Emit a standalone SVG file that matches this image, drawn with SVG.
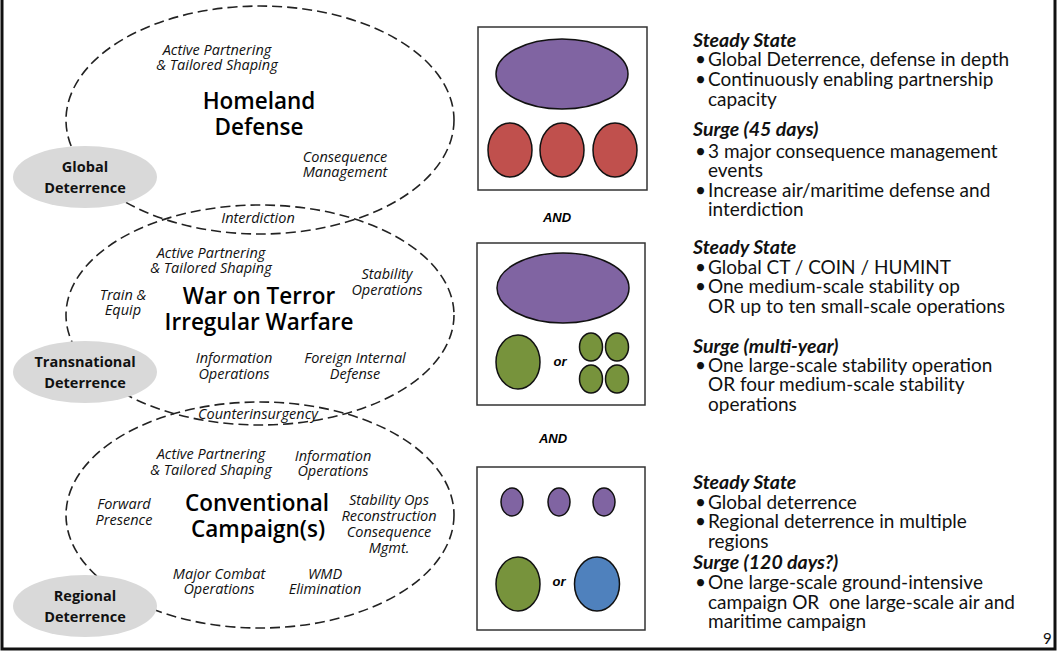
<svg xmlns="http://www.w3.org/2000/svg" width="1061" height="652" viewBox="0 0 1061 652">
<style>
.dash{fill:none;stroke:#222;stroke-width:1.6;stroke-dasharray:10 5}
.tag{fill:#d9d9d9;stroke:none}
.tagt{font-family:"Open Sans",sans-serif;font-weight:700;font-size:14.5px;fill:#111;text-anchor:middle}
.big{font-family:"Open Sans",sans-serif;font-weight:600;font-size:22.5px;fill:#000;text-anchor:middle}
.it{font-family:"Open Sans",sans-serif;font-style:italic;font-size:14.5px;fill:#111;text-anchor:middle}
.box{fill:#fff;stroke:#333;stroke-width:1.5}
.sh{stroke:#111;stroke-width:1.5}
.pu{fill:#8064a2}.rd{fill:#c0504d}.gr{fill:#77933c}.bl{fill:#4f81bd}
.and{font-family:"Liberation Sans",Arial,sans-serif;font-style:italic;font-weight:bold;font-size:13px;fill:#000;text-anchor:middle}
.or{font-family:"Liberation Sans",Arial,sans-serif;font-style:italic;font-weight:bold;font-size:13px;fill:#000;text-anchor:middle}
.hd{font-family:Lato,"Open Sans",sans-serif;font-style:italic;font-weight:bold;font-size:19.5px;fill:#111}
.tx{font-family:Lato,"Open Sans",sans-serif;font-size:19px;fill:#111}
</style>
<rect x="0" y="0" width="1061" height="652" fill="#fff"/>
<path d="M2,0 V649 H1055 V0" fill="none" stroke="#111" stroke-width="3"/>

<g id="connectors">
<ellipse class="dash" cx="260" cy="120" rx="194" ry="114"/>
<ellipse class="dash" cx="260" cy="315" rx="194" ry="110"/>
<ellipse class="dash" cx="260" cy="515" rx="194" ry="113"/>
</g>

<g id="homeland">
<text class="it" x="217" y="55">Active Partnering</text>
<text class="it" x="217" y="70">&amp; Tailored Shaping</text>
<text class="big" x="259" y="109">Homeland</text>
<text class="big" x="259" y="135">Defense</text>
<text class="it" x="345" y="162">Consequence</text>
<text class="it" x="345" y="177">Management</text>
<text class="it" x="258" y="223">Interdiction</text>
</g>

<g id="global-deterrence">
<ellipse class="tag" cx="85" cy="177" rx="72" ry="31"/>
<text class="tagt" x="85" y="172">Global</text>
<text class="tagt" x="85" y="193">Deterrence</text>
</g>

<g id="war-on-terror">
<text class="it" x="211" y="258">Active Partnering</text>
<text class="it" x="211" y="273">&amp; Tailored Shaping</text>
<text class="it" x="387" y="279">Stability</text>
<text class="it" x="387" y="295">Operations</text>
<text class="it" x="123" y="300">Train &amp;</text>
<text class="it" x="123" y="315">Equip</text>
<text class="big" x="259" y="304">War on Terror</text>
<text class="big" x="259" y="330">Irregular Warfare</text>
<text class="it" x="234" y="363">Information</text>
<text class="it" x="234" y="379">Operations</text>
<text class="it" x="355" y="363">Foreign Internal</text>
<text class="it" x="355" y="379">Defense</text>
<text class="it" x="258" y="419">Counterinsurgency</text>
</g>

<g id="transnational-deterrence">
<ellipse class="tag" cx="85" cy="372" rx="72" ry="31"/>
<text class="tagt" x="85" y="367">Transnational</text>
<text class="tagt" x="85" y="388">Deterrence</text>
</g>

<g id="conventional">
<text class="it" x="211" y="459">Active Partnering</text>
<text class="it" x="211" y="475">&amp; Tailored Shaping</text>
<text class="it" x="333" y="461">Information</text>
<text class="it" x="333" y="476">Operations</text>
<text class="it" x="124" y="509">Forward</text>
<text class="it" x="124" y="525">Presence</text>
<text class="big" x="257" y="511">Conventional</text>
<text class="big" x="258" y="537">Campaign(s)</text>
<text class="it" x="389" y="505">Stability Ops</text>
<text class="it" x="389" y="521">Reconstruction</text>
<text class="it" x="389" y="537">Consequence</text>
<text class="it" x="389" y="553">Mgmt.</text>
<text class="it" x="219" y="579">Major Combat</text>
<text class="it" x="219" y="594">Operations</text>
<text class="it" x="325" y="579">WMD</text>
<text class="it" x="325" y="594">Elimination</text>
</g>

<g id="regional-deterrence">
<ellipse class="tag" cx="85" cy="606" rx="72" ry="31"/>
<text class="tagt" x="85" y="601">Regional</text>
<text class="tagt" x="85" y="622">Deterrence</text>
</g>

<g id="box1">
<rect class="box" x="478" y="27" width="169" height="163"/>
<ellipse class="pu sh" cx="562" cy="74" rx="66" ry="35"/>
<ellipse class="rd sh" cx="510" cy="150" rx="22" ry="27"/>
<ellipse class="rd sh" cx="562" cy="150" rx="22" ry="27"/>
<ellipse class="rd sh" cx="615" cy="150" rx="22" ry="27"/>
</g>
<text class="and" x="557" y="222">AND</text>

<g id="box2">
<rect class="box" x="477" y="243" width="168" height="162"/>
<ellipse class="pu sh" cx="563" cy="288" rx="66" ry="35"/>
<ellipse class="gr sh" cx="518" cy="362" rx="22" ry="27"/>
<text class="or" x="560" y="366">or</text>
<ellipse class="gr sh" cx="591" cy="347" rx="11.5" ry="14"/>
<ellipse class="gr sh" cx="617" cy="347" rx="11.5" ry="14"/>
<ellipse class="gr sh" cx="591" cy="379" rx="11.5" ry="14"/>
<ellipse class="gr sh" cx="617" cy="379" rx="11.5" ry="14"/>
</g>
<text class="and" x="553" y="443">AND</text>

<g id="box3">
<rect class="box" x="477" y="467" width="168" height="163"/>
<ellipse class="pu sh" cx="512" cy="502" rx="11" ry="14"/>
<ellipse class="pu sh" cx="559" cy="502" rx="11" ry="14"/>
<ellipse class="pu sh" cx="604" cy="502" rx="11" ry="14"/>
<ellipse class="gr sh" cx="518" cy="584" rx="22" ry="27"/>
<text class="or" x="559" y="586">or</text>
<ellipse class="bl sh" cx="597" cy="584" rx="22.5" ry="27"/>
</g>

<g id="text1">
<text class="hd" x="693" y="47">Steady State</text>
<text class="tx" x="695" y="66">•</text><text class="tx" x="708" y="66">Global Deterrence, defense in depth</text>
<text class="tx" x="695" y="86">•</text><text class="tx" x="708" y="86">Continuously enabling partnership</text>
<text class="tx" x="708" y="106">capacity</text>
<text class="hd" x="693" y="136">Surge (45 days)</text>
<text class="tx" x="695" y="158">•</text><text class="tx" x="708" y="158">3 major consequence management</text>
<text class="tx" x="708" y="177">events</text>
<text class="tx" x="695" y="197">•</text><text class="tx" x="708" y="197">Increase air/maritime defense and</text>
<text class="tx" x="708" y="216">interdiction</text>
</g>

<g id="text2">
<text class="hd" x="693" y="254">Steady State</text>
<text class="tx" x="695" y="274">•</text><text class="tx" x="708" y="274">Global CT / COIN / HUMINT</text>
<text class="tx" x="695" y="293">•</text><text class="tx" x="708" y="293">One medium-scale stability op</text>
<text class="tx" x="708" y="313">OR up to ten small-scale operations</text>
<text class="hd" x="693" y="353">Surge (multi-year)</text>
<text class="tx" x="695" y="372">•</text><text class="tx" x="708" y="372">One large-scale stability operation</text>
<text class="tx" x="708" y="391">OR four medium-scale stability</text>
<text class="tx" x="708" y="411">operations</text>
</g>

<g id="text3">
<text class="hd" x="693" y="489">Steady State</text>
<text class="tx" x="695" y="509">•</text><text class="tx" x="708" y="509">Global deterrence</text>
<text class="tx" x="695" y="528">•</text><text class="tx" x="708" y="528">Regional deterrence in multiple</text>
<text class="tx" x="708" y="548">regions</text>
<text class="hd" x="693" y="569">Surge (120 days?)</text>
<text class="tx" x="695" y="589">•</text><text class="tx" x="708" y="589">One large-scale ground-intensive</text>
<text class="tx" x="708" y="609" xml:space="preserve">campaign OR  one large-scale air and</text>
<text class="tx" x="708" y="628">maritime campaign</text>
</g>

<text x="1043" y="644" font-family="Lato,'Open Sans',sans-serif" font-size="15" fill="#111">9</text>
</svg>
